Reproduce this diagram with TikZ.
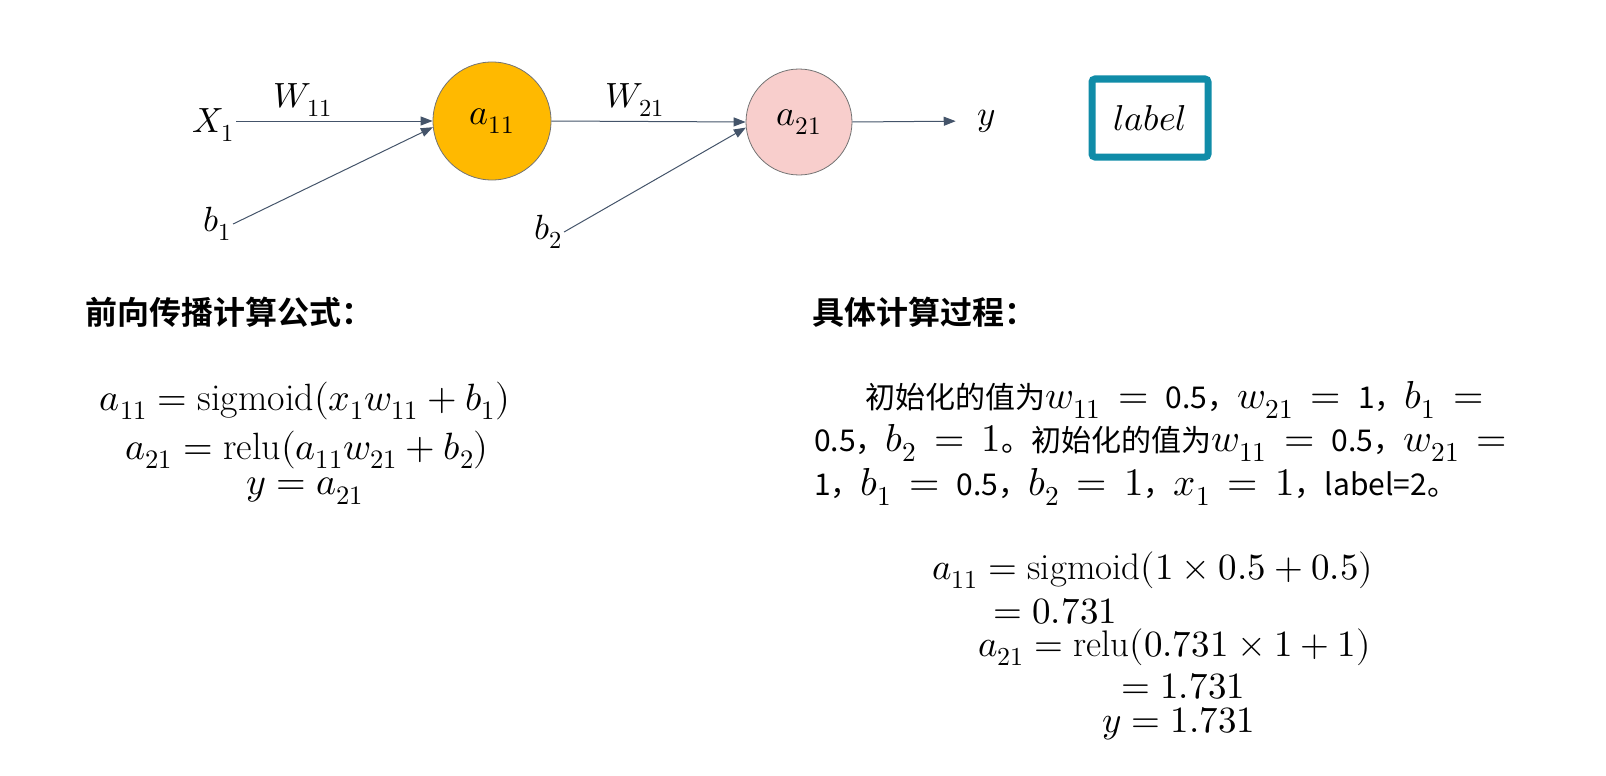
\documentclass[tikz,border=0pt]{standalone}
\usepackage{fontspec}
\usepackage{unicode-math}
\setmathfont{Latin Modern Math}
\newfontfamily\cjk{Noto Sans CJK SC}[BoldFont={Noto Sans CJK SC Bold}]
\usetikzlibrary{arrows.meta}
\definecolor{arr}{RGB}{68,84,106}
\definecolor{gold}{RGB}{255,185,0}
\definecolor{pinkn}{RGB}{248,206,204}
\definecolor{tealb}{RGB}{16,140,168}
\newcommand\fs[1]{\fontsize{#1}{#1}\selectfont}
\newcommand\sn[1]{\mbox{\cjk\fs{30}#1}}
\newcommand\pmath[1]{{\fs{39}\thickmuskip=8mu\relax$#1$}}
\begin{document}
\begin{tikzpicture}[x=1pt,y=-1pt,
  lbl/.style={inner sep=2pt, font=\fs{35}},
  neuron/.style={circle, draw=black!55, line width=0.8pt, inner sep=0pt, font=\fs{36}},
  conn/.style={draw=arr, line width=1pt, -{Triangle[length=12pt,width=9pt]}},
  head/.style={anchor=west, inner sep=0pt, font=\cjk\bfseries\fs{32}},
  formula/.style={inner sep=0pt, font=\fs{38}},
  para/.style={anchor=west, inner sep=0pt, font=\cjk\fs{30}},
  calc/.style={anchor=west, inner sep=0pt, font=\fs{37}},
  labelbox/.style={draw=tealb, line width=7pt, rounded corners=3pt, minimum width=116pt, minimum height=78pt, font=\fs{36}}
]
\useasboundingbox (0,0) rectangle (1606,776);
% network
\node[neuron, fill=gold, minimum size=118pt] (a11) at (492,121) {$a_{11}$};
\node[neuron, fill=pinkn, minimum size=106pt] (a21) at (799,122) {$a_{21}$};
\node[lbl] (x1) at (213,125) {$X_1$};
\node[lbl] (b1) at (217,224) {$b_1$};
\node[lbl] (b2) at (548,232) {$b_2$};
\node[lbl] (w11) at (303,100) {$W_{11}$};
\node[lbl] (w21) at (635,100) {$W_{21}$};
\node[lbl] (y) at (987,121) {$y$};
\node[labelbox] (label) at (1150,118) {$label$};
\draw[conn] (x1.east |- a11.west) -- (a11.west);
\draw[conn] (b1.east) -- (a11.186);
\draw[conn] (a11.east) -- (a21.west);
\draw[conn] (b2.east) -- (a21.186);
\draw[conn, shorten >=20pt] (a21.east) -- (y.west);
% headings
\node[head] (h1) at (85,312) {前向传播计算公式：};
\node[head] (h2) at (812,312) {具体计算过程：};
% left formulas
\node[formula] (f1) at (305,401) {$a_{11} = \mathrm{sigmoid}(x_1 w_{11} + b_1)$};
\node[formula] (f2) at (307,450) {$a_{21} = \mathrm{relu}(a_{11} w_{21} + b_2)$};
\node[formula] (f3) at (305,491) {$y = a_{21}$};
% paragraph
\node[para] (p1) at (865,400) {初始化的值为\pmath{w_{11} = \sn{0.5}}，\pmath{w_{21} = \sn{1}}，\pmath{b_1 =}};
\node[para] (p2) at (814,443) {0.5，\pmath{b_2 = 1}。初始化的值为\pmath{w_{11} = \sn{0.5}}，\pmath{w_{21} =}};
\node[para] (p3) at (814,487) {1，\pmath{b_1 = \sn{0.5}}，\pmath{b_2 = 1}，\pmath{x_1 = 1}，label=2。};
% calculation
\node[calc] (c1) at (932,570) {$a_{11} = \mathrm{sigmoid}(1 \times 0.5 + 0.5)$};
\node[calc] (c2) at (993,611) {$= 0.731$};
\node[calc] (c3) at (978,647) {$a_{21} = \mathrm{relu}(0.731 \times 1 + 1)$};
\node[calc] (c4) at (1121,686) {$= 1.731$};
\node[calc] (c5) at (1102,724) {$y = 1.731$};
\end{tikzpicture}
\end{document}
